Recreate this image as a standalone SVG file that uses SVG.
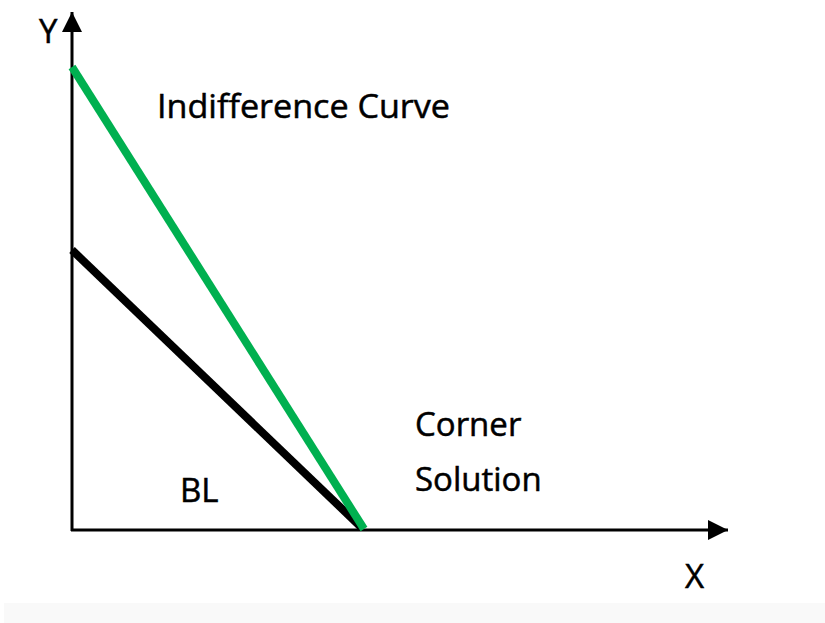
<svg xmlns="http://www.w3.org/2000/svg" width="825" height="623" viewBox="0 0 825 623">
<defs>
<style>
.lbl{font-family:"Open Sans","Noto Sans",sans-serif;font-size:33px;fill:#000;stroke:#000;stroke-width:0.5}
.axis{stroke:#000;stroke-width:3;fill:none}
</style>
<marker id="arr" viewBox="0 0 20 20" refX="20" refY="10" markerWidth="20" markerHeight="20" markerUnits="userSpaceOnUse" orient="auto">
<path d="M0,0 L20,10 L0,20 Z" fill="#000"/>
</marker>
</defs>
<rect x="0" y="0" width="825" height="623" fill="#fff"/>
<rect x="4" y="603" width="821" height="20" fill="#f9f9f9"/>
<g id="connectors">
<line class="axis" x1="72" y1="531" x2="72" y2="12" marker-end="url(#arr)"/>
<line class="axis" x1="71" y1="530" x2="728" y2="530" marker-end="url(#arr)"/>
<line id="bl" x1="72" y1="250" x2="362" y2="528" stroke="#000" stroke-width="8"/>
<line id="ic" x1="72" y1="67" x2="364" y2="529" stroke="#00b050" stroke-width="8"/>
</g>
<g id="label-y"><text class="lbl" x="39" y="43">Y</text></g>
<g id="label-x"><text class="lbl" x="685" y="588">X</text></g>
<g id="label-ic"><text class="lbl" x="157" y="118" textLength="293" lengthAdjust="spacingAndGlyphs">Indifference Curve</text></g>
<g id="label-bl"><text class="lbl" x="180" y="502">BL</text></g>
<g id="label-cs"><text class="lbl" x="415" y="436">Corner</text><text class="lbl" x="415" y="491">Solution</text></g>
</svg>
